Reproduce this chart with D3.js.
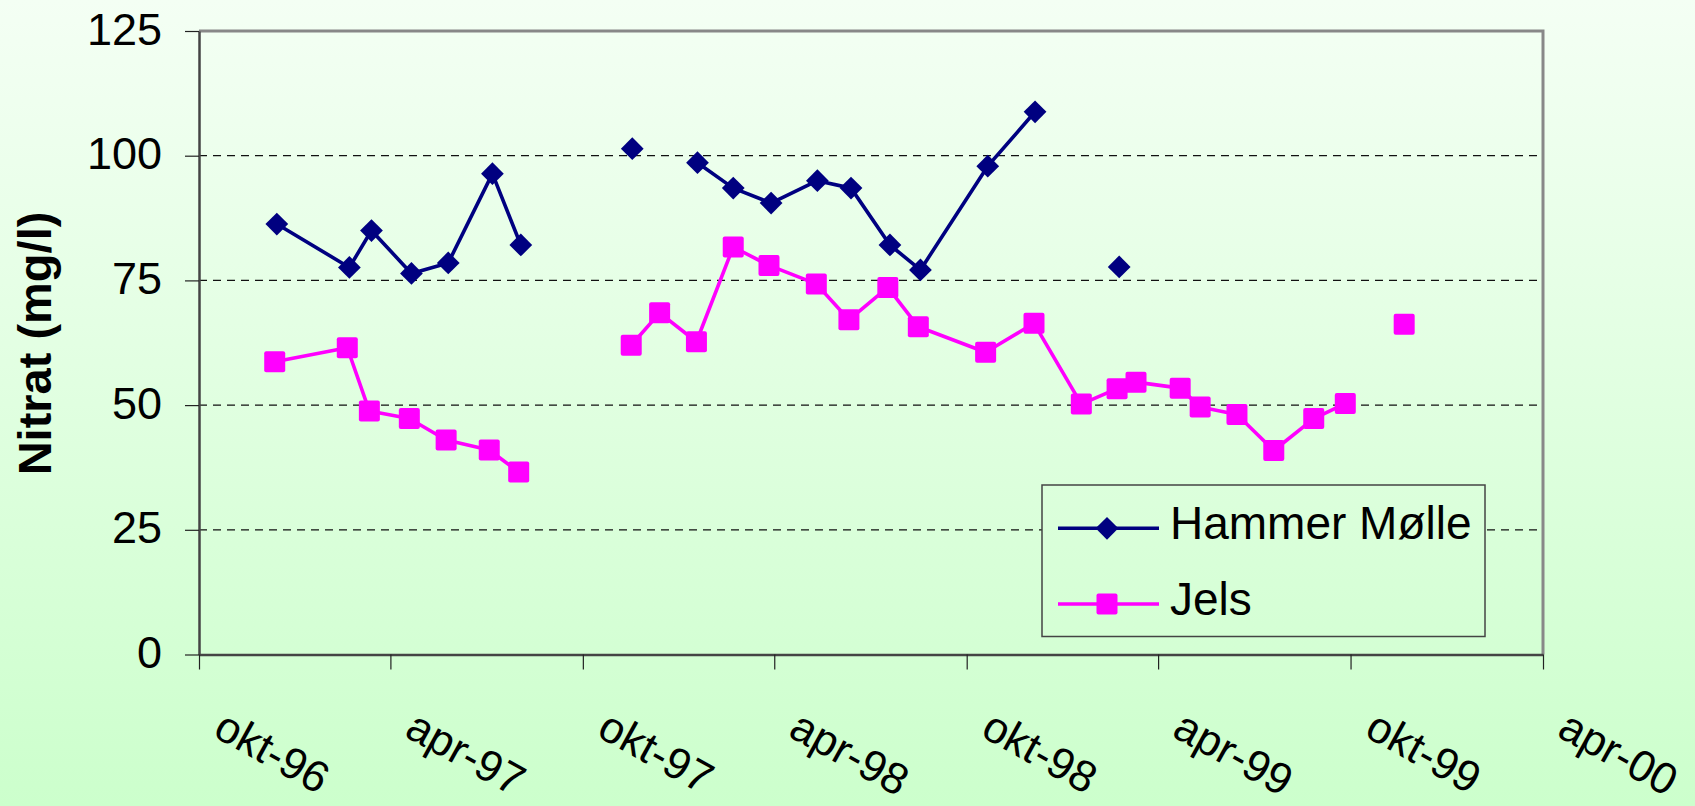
<!DOCTYPE html>
<html>
<head>
<meta charset="utf-8">
<script src="https://cdnjs.cloudflare.com/ajax/libs/d3/7.8.5/d3.min.js"></script>
<style>
  body { margin: 0; }
  svg { display: block; font-family: "Liberation Sans", Arial, sans-serif; }
</style>
</head>
<body>
<div id="chart"></div>
<script>
// data (null = gap in the line)
var hammerDates = ["1996-12-14", "1997-02-21", "1997-03-14", "1997-04-21", "1997-05-26", "1997-07-07", "1997-08-03", null,
    "1997-11-17", null,
    "1998-01-18", "1998-02-21", "1998-03-29", "1998-05-12", "1998-06-13", "1998-07-20", "1998-08-18", "1998-10-21", "1998-12-05", null,
    "1999-02-23"];
var hammerValues = [86.3, 77.6, 85.0, 76.4, 78.5, 96.4, 82.1, null,
    101.4, null,
    98.6, 93.5, 90.5, 95.0, 93.5, 82.1, 77.1, 97.9, 108.8, null,
    77.7];

var jelsDates = ["1996-12-12", "1997-02-19", "1997-03-12", "1997-04-19", "1997-05-24", "1997-07-04", "1997-08-01", null,
    "1997-11-16", "1997-12-13", "1998-01-17", "1998-02-21", "1998-03-27", "1998-05-11", "1998-06-11", "1998-07-18", "1998-08-16",
    "1998-10-19", "1998-12-04", "1999-01-18", "1999-02-21", "1999-03-11", "1999-04-22", "1999-05-11", "1999-06-15", "1999-07-20",
    "1999-08-27", "1999-09-26", null,
    "1999-11-21"];
var jelsValues = [58.7, 61.5, 48.8, 47.3, 43.0, 41.0, 36.6, null,
    62.0, 68.5, 62.7, 81.7, 78.0, 74.3, 67.1, 73.6, 65.7,
    60.6, 66.4, 50.2, 53.3, 54.6, 53.4, 49.6, 48.1, 40.9,
    47.3, 50.3, null,
    66.2];

var xTickDates = ["1996-10-01", "1997-04-01", "1997-10-01", "1998-04-01", "1998-10-01", "1999-04-01", "1999-10-01", "2000-04-01"];
var xTickLabels = ["okt-96", "apr-97", "okt-97", "apr-98", "okt-98", "apr-99", "okt-99", "apr-00"];
var yTicks = [0, 25, 50, 75, 100, 125];

var seriesNames = ["Hammer Mølle", "Jels"];

createGraph();

function createGraph() {
    // main config
    var width = 1695;
    var height = 806;
    var plot = { left: 199, right: 1543, top: 31, bottom: 654.5 };
    var parse = d3.utcParse("%Y-%m-%d");
    var font = "'Liberation Sans', Arial, sans-serif";

    var x = d3.scaleUtc()
        .domain([parse(xTickDates[0]), parse(xTickDates[xTickDates.length - 1])])
        .range([plot.left, plot.right]);
    var y = d3.scaleLinear().domain([0, 125]).range([plot.bottom, plot.top]);

    var svg = d3.select("#chart").append("svg")
        .attr("width", width)
        .attr("height", height);

    // background gradient, shared by the legend box
    var grad = svg.append("defs").append("linearGradient")
        .attr("id", "bg")
        .attr("gradientUnits", "userSpaceOnUse")
        .attr("x1", 0).attr("y1", 0).attr("x2", 0).attr("y2", height);
    grad.append("stop").attr("offset", "0").attr("stop-color", "#f4fff4");
    grad.append("stop").attr("offset", "1").attr("stop-color", "#ccffcc");

    svg.append("rect")
        .attr("width", width).attr("height", height)
        .attr("fill", "url(#bg)");

    // gridlines
    svg.append("g").selectAll("line")
        .data(yTicks.filter(function (d) { return d > 0 && d < 125; }))
        .enter().append("line")
        .attr("x1", plot.left).attr("x2", plot.right)
        .attr("y1", function (d) { return y(d); })
        .attr("y2", function (d) { return y(d); })
        .attr("stroke", "#111")
        .attr("stroke-width", 1.2)
        .attr("stroke-dasharray", "8,6");

    // top / right frame
    svg.append("path")
        .attr("d", "M" + plot.left + "," + plot.top + "H" + plot.right + "V" + plot.bottom)
        .attr("fill", "none")
        .attr("stroke", "#888")
        .attr("stroke-width", 3);

    // y axis
    var yAxis = svg.append("g")
        .attr("transform", "translate(" + plot.left + ",0)")
        .call(d3.axisLeft(y).tickValues(yTicks).tickSize(14).tickSizeOuter(0).tickPadding(23));
    yAxis.select(".domain").attr("stroke", "#444").attr("stroke-width", 2.5);
    yAxis.selectAll(".tick line").attr("stroke", "#222").attr("stroke-width", 1.2);
    yAxis.selectAll(".tick text")
        .attr("dy", "0.29em")
        .style("font-family", font)
        .style("font-size", "45px")
        .attr("fill", "#000");

    // x axis
    var xAxis = svg.append("g")
        .attr("transform", "translate(0," + plot.bottom + ")")
        .call(d3.axisBottom(x)
            .tickValues(xTickDates.map(parse))
            .tickFormat(function (d, i) { return xTickLabels[i]; })
            .tickSize(15).tickSizeOuter(0));
    xAxis.select(".domain").attr("stroke", "#444").attr("stroke-width", 2.5);
    xAxis.selectAll(".tick line").attr("stroke", "#222").attr("stroke-width", 1.2);
    xAxis.selectAll(".tick text")
        .attr("x", 0).attr("y", 0).attr("dy", 0)
        .attr("transform", "translate(12,81) rotate(29)")
        .style("text-anchor", "start")
        .style("font-family", font)
        .style("font-size", "44px")
        .attr("fill", "#000");

    // axis title
    svg.append("text")
        .attr("transform", "translate(51,343.5) rotate(-90)")
        .attr("text-anchor", "middle")
        .style("font-family", font)
        .style("font-size", "47px")
        .style("font-weight", "bold")
        .text("Nitrat (mg/l)");

    // series
    var diamond = d3.symbol().type(d3.symbolDiamond2).size(330);
    var series = [
        { name: seriesNames[0], dates: hammerDates, values: hammerValues, color: "#000080", marker: "diamond" },
        { name: seriesNames[1], dates: jelsDates, values: jelsValues, color: "#ff00ff", marker: "square" }
    ];

    var line = d3.line()
        .defined(function (d) { return d.v != null; })
        .x(function (d) { return x(d.t); })
        .y(function (d) { return y(d.v); });

    function drawMarker(g, s, cx, cy) {
        if (s.marker === "diamond") {
            g.append("path")
                .attr("d", diamond())
                .attr("transform", "translate(" + cx + "," + cy + ")")
                .attr("fill", s.color);
        } else {
            g.append("rect")
                .attr("x", cx - 10.5).attr("y", cy - 10.5)
                .attr("width", 21).attr("height", 21)
                .attr("rx", 2)
                .attr("fill", s.color);
        }
    }

    series.forEach(function (s) {
        var pts = s.values.map(function (v, i) {
            return { t: s.dates[i] ? parse(s.dates[i]) : null, v: v };
        });
        svg.append("path")
            .datum(pts)
            .attr("d", line)
            .attr("fill", "none")
            .attr("stroke", s.color)
            .attr("stroke-width", 3.6)
            .attr("stroke-linejoin", "round");
        var g = svg.append("g");
        pts.filter(function (d) { return d.v != null; }).forEach(function (d) {
            drawMarker(g, s, x(d.t), y(d.v));
        });
    });

    // legend
    var legend = svg.append("g");
    legend.append("rect")
        .attr("x", 1042).attr("y", 485)
        .attr("width", 443).attr("height", 151.5)
        .attr("fill", "url(#bg)")
        .attr("stroke", "#444")
        .attr("stroke-width", 1.5);
    var rowY = [528.3, 604];
    series.forEach(function (s, i) {
        legend.append("line")
            .attr("x1", 1058).attr("x2", 1159)
            .attr("y1", rowY[i]).attr("y2", rowY[i])
            .attr("stroke", s.color)
            .attr("stroke-width", 3.6);
        drawMarker(legend, s, 1107, rowY[i]);
        legend.append("text")
            .attr("x", 1170).attr("y", rowY[i] + 10.5)
            .style("font-family", font)
            .style("font-size", "46px")
            .text(s.name);
    });
}
</script>
</body>
</html>
